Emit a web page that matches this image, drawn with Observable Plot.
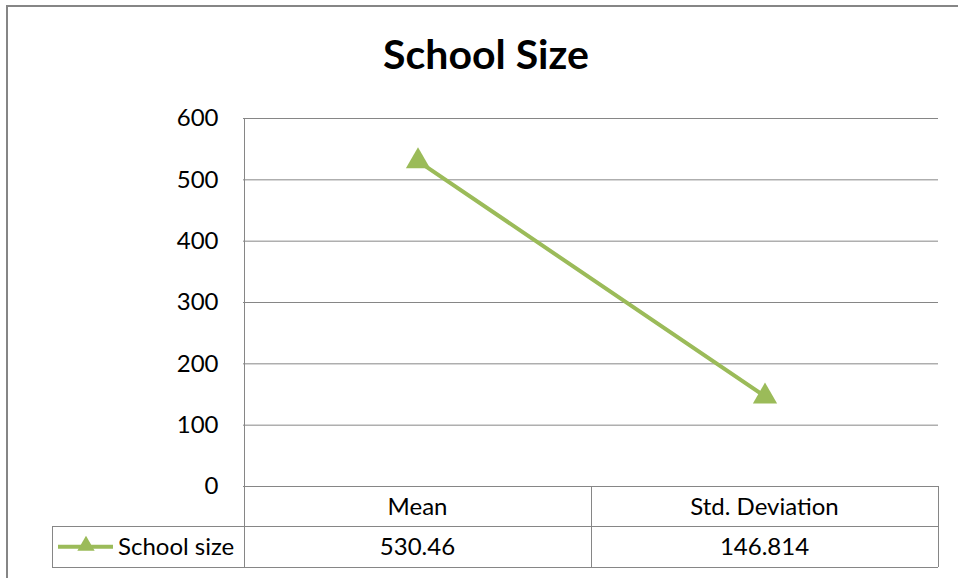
<!DOCTYPE html>
<html>
<head>
<meta charset="utf-8">
<script src="https://cdn.jsdelivr.net/npm/d3@7"></script>
<script src="https://cdn.jsdelivr.net/npm/@observablehq/plot@0.6"></script>
<style>
  html, body { margin: 0; padding: 0; background: #fff; }
  #wrap { position: relative; width: 958px; height: 578px; overflow: hidden; }
  #border { position: absolute; left: 6px; top: 5px; width: 960px; height: 600px; border-left: 2px solid #868686; border-top: 2px solid #868686; box-sizing: border-box; }
  #title { position: absolute; left: 0; top: 29px; width: 972px; text-align: center; font: bold 41px Lato, "Open Sans", sans-serif; color: #000; }
  #chart { position: absolute; left: 0; top: 0; }
</style>
</head>
<body>
<div id="wrap">
  <div id="border"></div>
  <div id="chart"></div>
  <div id="title">School Size</div>
</div>
<script>
const categories = ["Mean", "Std. Deviation"];
const values = [530.46, 146.814];
const valueLabels = ["530.46", "146.814"];
const seriesName = "School size";
const yTicks = [0, 100, 200, 300, 400, 500, 600];

const data = categories.map((c, i) => ({cat: c, value: values[i]}));
const green = "#9BBB59";
const gray = "#868686";
const font = "Lato, 'Open Sans', sans-serif";

const chart = Plot.plot({
  width: 958,
  height: 578,
  marginTop: 118,
  marginBottom: 92,
  marginLeft: 243,
  marginRight: 20,
  style: {fontFamily: font, fontSize: "24px", background: "transparent", color: "#000"},
  x: {type: "band", domain: categories, padding: 0, axis: null},
  y: {domain: [0, 600], ticks: yTicks, tickSize: 0, tickPadding: 25, label: null, tickFormat: d3.format("d")},
  marks: [
    Plot.ruleY(yTicks, {stroke: gray, strokeWidth: 1, strokeOpacity: 1}),
    Plot.line(data, {x: "cat", y: "value", stroke: green, strokeWidth: 4}),
    Plot.dot(data, {x: "cat", y: "value", symbol: "triangle", r: 9, fill: green, stroke: "none"})
  ]
});
document.getElementById("chart").appendChild(chart);

// Data table and frame drawn with the chart's own scales
const xs = chart.scale("x");
const ys = chart.scale("y");
const bw = xs.bandwidth;
const x0 = xs.apply(categories[0]);
const xEnd = xs.apply(categories[categories.length - 1]) + bw;
const yTop = ys.apply(600);
const yZero = ys.apply(0);
const rowH = 40.5;
const legendLeft = 52;
const svg = d3.select(chart);
const g = svg.append("g").attr("stroke", gray).attr("stroke-width", 1).attr("fill", "none").attr("shape-rendering", "crispEdges");
g.append("line").attr("x1", x0).attr("x2", x0).attr("y1", yTop).attr("y2", yZero + 2 * rowH);
g.append("line").attr("x1", xEnd).attr("x2", xEnd).attr("y1", yZero).attr("y2", yZero + 2 * rowH);
categories.slice(1).forEach(c => {
  const xx = xs.apply(c);
  g.append("line").attr("x1", xx).attr("x2", xx).attr("y1", yZero).attr("y2", yZero + 2 * rowH);
});
g.append("line").attr("x1", legendLeft).attr("x2", xEnd).attr("y1", yZero + rowH).attr("y2", yZero + rowH);
g.append("line").attr("x1", legendLeft).attr("x2", xEnd).attr("y1", yZero + 2 * rowH).attr("y2", yZero + 2 * rowH);
g.append("line").attr("x1", legendLeft).attr("x2", legendLeft).attr("y1", yZero + rowH).attr("y2", yZero + 2 * rowH);

const t = svg.append("g").attr("font-family", font).attr("font-size", 24).attr("fill", "#000").attr("text-anchor", "middle");
categories.forEach((c, i) => {
  const cx = xs.apply(c) + bw / 2;
  t.append("text").attr("x", cx).attr("y", yZero + rowH / 2).attr("dy", "0.36em").text(c);
  t.append("text").attr("x", cx).attr("y", yZero + rowH * 1.5).attr("dy", "0.36em").text(valueLabels[i]);
});
// legend key
const ly = yZero + rowH * 1.5;
svg.append("line").attr("x1", 58).attr("x2", 113).attr("y1", ly).attr("y2", ly).attr("stroke", green).attr("stroke-width", 4);
svg.append("path").attr("d", d3.symbol(d3.symbolTriangle, 130)()).attr("transform", `translate(86,${ly - 1})`).attr("fill", green);
svg.append("text").attr("x", 118).attr("y", ly).attr("dy", "0.36em").attr("text-anchor", "start")
  .attr("font-family", font).attr("font-size", 24).attr("fill", "#000").text(seriesName);
</script>
</body>
</html>
